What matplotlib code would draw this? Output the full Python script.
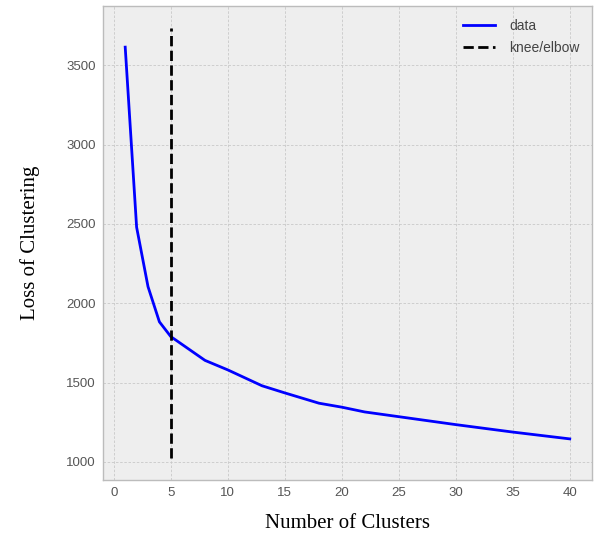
import matplotlib
matplotlib.use("Agg")
import matplotlib.pyplot as plt

n_clusters = [1, 2, 3, 4, 5, 8, 10, 13, 15, 18, 20, 22, 25, 30, 35, 40]
loss = [3615, 2480, 2105, 1883, 1790, 1640, 1580, 1480, 1435, 1370, 1345, 1315, 1285, 1235, 1188, 1145]
knee = 5

plt.rcParams['font.family'] = ['Liberation Sans', 'DejaVu Sans']

fig = plt.figure(figsize=(5.97, 5.37), dpi=100)
ax = fig.add_axes([0.1725, 0.1061, 0.8191, 0.8827])
ax.set_facecolor('#eeeeee')
for s in ax.spines.values():
    s.set_color('#bcbcbc')
    s.set_linewidth(1.0)

ax.plot(n_clusters, loss, color='blue', lw=2.0, label='data')
ylo, yhi = ax.get_ylim()
ax.vlines(knee, ylo, yhi, colors='black', linestyles='--', lw=2.0, label='knee/elbow')

ax.grid(True, color='#c8c8c8', linestyle=(0, (3, 2)), linewidth=0.6)
ax.set_axisbelow(True)
ax.tick_params(axis='both', length=0, labelsize=9.5, labelcolor='#555555', pad=5)
ax.set_xticks([0, 5, 10, 15, 20, 25, 30, 35, 40])
ax.set_yticks([1000, 1500, 2000, 2500, 3000, 3500])

ax.set_xlabel('Number of Clusters', family='Liberation Serif', fontsize=15, labelpad=11)
ax.set_ylabel('Loss of Clustering', family='Liberation Serif', fontsize=15, labelpad=19)

leg = ax.legend(loc='upper right', frameon=False, fontsize=10, labelspacing=0.6,
                handlelength=2.3, handletextpad=1.0, borderaxespad=0.5)
for t in leg.get_texts():
    t.set_color('#444444')

fig.savefig('out.png', dpi=100)
